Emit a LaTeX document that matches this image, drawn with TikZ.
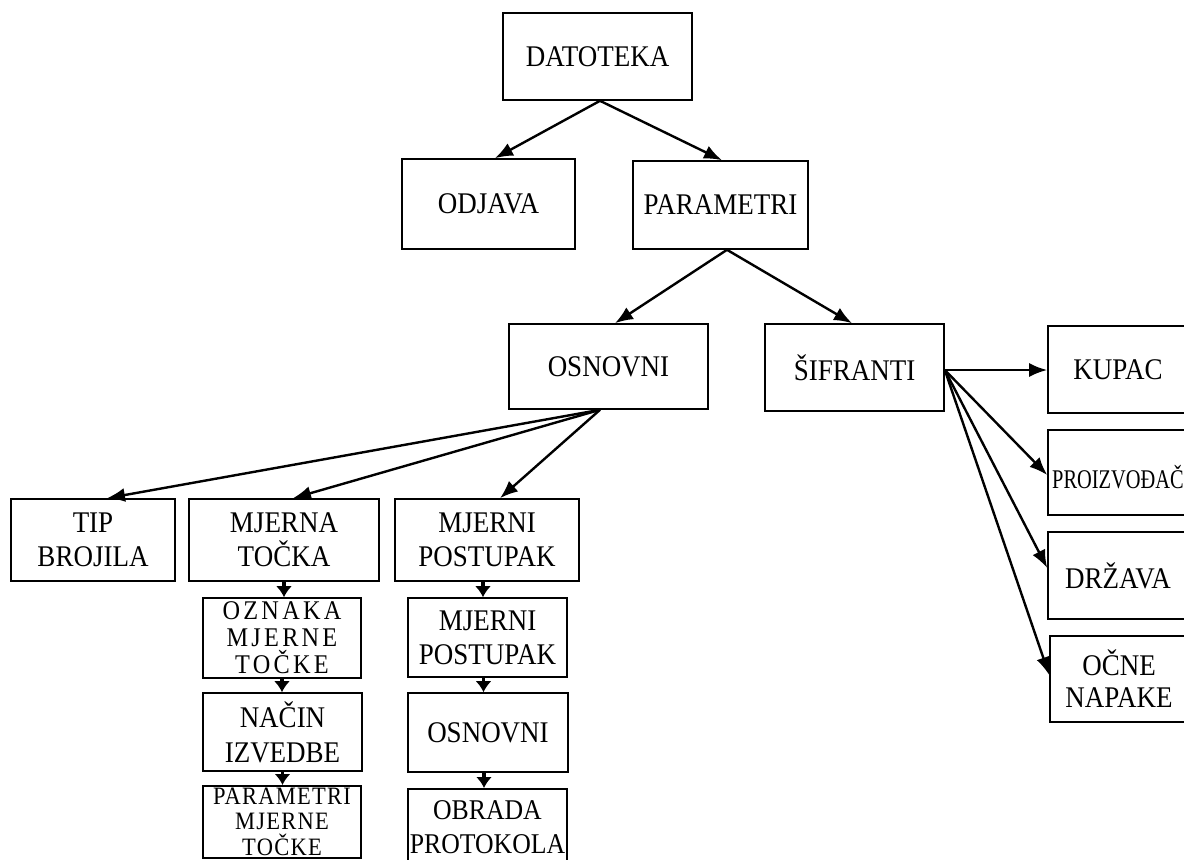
\documentclass[tikz,border=0pt]{standalone}
\usepackage{fontspec}
\setmainfont{Liberation Serif}[FakeStretch=0.9]
\usepackage{graphicx}
\usetikzlibrary{arrows.meta,calc}
\begin{document}
\begin{tikzpicture}[x=0.5pt,y=-0.5pt,
  box/.style={draw, line width=0.8pt, rectangle, inner sep=1pt, align=center,
    font=\fontsize{15}{17}\selectfont},
  smallsp/.style={font=\fontsize{13.5}{13.5}\selectfont\addfontfeature{LetterSpace=12}},
  smallpm/.style={font=\fontsize{12.5}{12.8}\selectfont\addfontfeature{LetterSpace=5}},
  arr/.style={line width=1.2pt, -{Latex[length=9pt,width=7pt]}},
  darr/.style={line width=1.6pt, -{Latex[length=5.5pt,width=8pt]}},
]
\clip (0,0) rectangle (1184,859);
\fill[white] (0,0) rectangle (1184,859);

% top levels
\node[box, minimum width=94.5pt, minimum height=43.5pt] (dat) at (597.5,56.5) {DATOTEKA};
\node[box, minimum width=86.5pt, minimum height=45pt] (odj) at (488.5,204) {ODJAVA};
\node[box, minimum width=87.5pt, minimum height=44pt] (par) at (720.5,205) {PARAMETRI};
\node[box, minimum width=99.5pt, minimum height=42.5pt] (osn) at (608.5,366.5) {OSNOVNI};
\node[box, minimum width=89.5pt, minimum height=43.5pt] (sif) at (854.5,367.5) {ŠIFRANTI};

% right column
\node[box, minimum width=70pt, minimum height=43.5pt] (kup) at (1118,369.5) {KUPAC};
\node[box, minimum width=70pt, minimum height=42.5pt, font=\fontsize{13.5}{15}\selectfont,
  text height=15.9pt, text depth=0pt] (pro) at (1118,472.5) {\scalebox{0.84}[1]{PROIZVOĐAČ}};
\node[box, minimum width=70pt, minimum height=43.5pt] (drz) at (1118,575.5) {DRŽAVA};
\node[box, minimum width=69pt, minimum height=43pt, font=\fontsize{15}{16}\selectfont] (ocn) at (1119,679) {OČNE\\NAPAKE};

% bottom rows
\node[box, minimum width=82pt, minimum height=41pt] (tip) at (93,540) {TIP\\BROJILA};
\node[box, minimum width=95pt, minimum height=41pt] (mjt) at (284,540) {MJERNA\\TOČKA};
\node[box, minimum width=92pt, minimum height=41pt] (mjp) at (487,540) {MJERNI\\POSTUPAK};

\node[box, smallsp, minimum width=79pt, minimum height=40pt] (ozn) at (282,638) {OZNAKA\\MJERNE\\TOČKE};
\node[box, minimum width=79.5pt, minimum height=39pt, font=\fontsize{15}{17.5}\selectfont] (nac) at (282.5,732) {NAČIN\\IZVEDBE};
\node[box, smallpm, anchor=north, minimum width=79pt, minimum height=36pt] (pmt) at (282,785) {PARAMETRI\\MJERNE\\TOČKE};

\node[box, minimum width=79.5pt, minimum height=39.5pt] (mjp2) at (487.5,637.5) {MJERNI\\POSTUPAK};
\node[box, minimum width=80pt, minimum height=39.5pt] (osn2) at (488,732.5) {OSNOVNI};
\node[box, anchor=north, minimum width=79.5pt, minimum height=38pt, font=\fontsize{14.3}{17}\selectfont] (obr) at (487.5,788) {OBRADA\\PROTOKOLA};

% connectors
\draw[arr] ([xshift=1.25pt]dat.south) -- ([xshift=3.25pt]odj.north);
\draw[arr] ([xshift=1.25pt]dat.south) -- ([xshift=0.75pt]par.north);
\draw[arr] ([xshift=3.25pt]par.south) -- ([xshift=3.25pt]osn.north);
\draw[arr] ([xshift=3.25pt]par.south) -- ([xshift=-1.25pt]sif.north);

\draw[arr] ([xshift=-4.25pt]osn.south) -- ([xshift=7pt]tip.north);
\draw[arr] ([xshift=-4.25pt]osn.south) -- ([xshift=4.5pt]mjt.north);
\draw[arr] ([xshift=-4.25pt]osn.south) -- ([xshift=6.5pt]mjp.north);

\coordinate (sfrom) at ([yshift=-1.25pt]sif.east);
\draw[arr] (sfrom) -- (sfrom -| kup.west);
\draw[arr] (sfrom) -- ([yshift=-1.25pt]pro.west);
\draw[arr] (sfrom) -- ([yshift=3.75pt]drz.west);
\draw[arr] (sfrom) -- ([yshift=2pt]ocn.west);

\draw[darr] (mjt.south) -- (mjt.south |- ozn.north);
\draw[darr] (ozn.south) -- (ozn.south |- nac.north);
\draw[darr] (nac.south) -- (nac.south |- pmt.north);

\draw[darr] ([xshift=-2pt]mjp.south) -- ([xshift=-2pt]mjp.south |- mjp2.north);
\draw[darr] ([xshift=-2pt]mjp2.south) -- ([xshift=-2pt]mjp2.south |- osn2.north);
\draw[darr] ([xshift=-2pt]osn2.south) -- ([xshift=-2pt]osn2.south |- obr.north);
\end{tikzpicture}
\end{document}
